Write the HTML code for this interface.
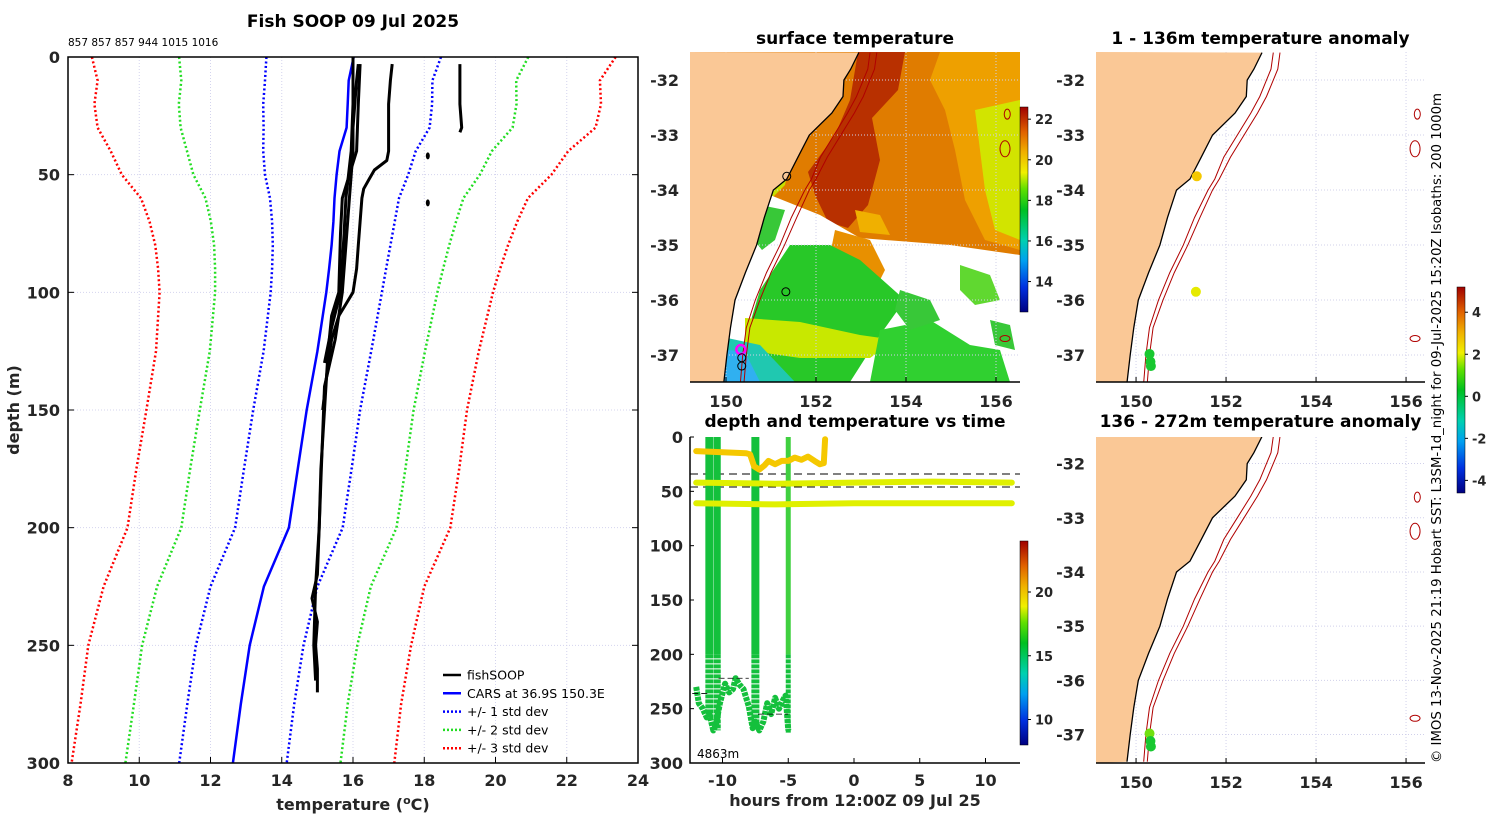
<!DOCTYPE html>
<html><head><meta charset="utf-8"><style>
html,body{margin:0;padding:0;background:#fff;}
svg{display:block;font-family:"DejaVu Sans","Liberation Sans",sans-serif;}
.tk{font-size:16px;font-weight:bold;fill:#262626;}
.ti{font-size:17px;font-weight:bold;fill:#000;}
</style></head><body>
<svg id="chart" width="1500" height="820" viewBox="0 0 1500 820" xmlns="http://www.w3.org/2000/svg">
<defs>
<linearGradient id="jetA" x1="0" y1="1" x2="0" y2="0">
<stop offset="0" stop-color="#000080"/><stop offset="0.12" stop-color="#0030e0"/><stop offset="0.25" stop-color="#00a0f0"/><stop offset="0.35" stop-color="#00d0b0"/><stop offset="0.5" stop-color="#00c020"/><stop offset="0.6" stop-color="#60e000"/><stop offset="0.68" stop-color="#f0f000"/><stop offset="0.78" stop-color="#f0b000"/><stop offset="0.88" stop-color="#e06000"/><stop offset="1" stop-color="#a00000"/>
</linearGradient>
</defs>
</svg>
<script>
// ---------- data: left profile chart ----------
const depthLevels=[0,10,20,30,40,50,60,70,80,90,100,125,150,175,200,225,250,275,300];
const carsMean=[16.02,15.88,15.85,15.82,15.62,15.54,15.48,15.45,15.4,15.33,15.25,15.0,14.7,14.45,14.2,13.5,13.1,12.85,12.63];
const carsStd=[2.45,2.35,2.37,2.33,2.14,2.01,1.81,1.72,1.65,1.6,1.56,1.51,1.5,1.51,1.51,1.5,1.51,1.5,1.51];
const p1Depth=[3,10,20,30,40,50,60,80,100,120,140,160,180,200,220,230,240,250,260,270];
const p1Temp=[16.15,16.1,16.05,16.0,16.0,15.95,15.9,15.8,15.7,15.5,15.2,15.15,15.1,15.05,15.0,14.85,15.0,14.95,15.0,15.0];
const p2Depth=[3,10,20,30,40,44,48,52,56,60,70,80,90,100,105,110,120,130,150];
const p2Temp=[17.1,17.05,17.0,17.0,17.0,16.95,16.6,16.45,16.3,16.25,16.2,16.15,16.1,16.0,15.8,15.6,15.4,15.3,15.15];
const p3Depth=[3,20,40,50,60,75,100,110,125,150,175,200,225,250,265];
const p3Temp=[16.2,16.15,16.1,15.9,15.7,15.65,15.6,15.4,15.3,15.2,15.1,15.05,14.95,14.9,14.95];
const p4Depth=[0,20,40,60,75,100,115,130];
const p4Temp=[16.0,16.0,15.95,15.8,15.75,15.65,15.4,15.2];
const p5Depth=[3,10,20,30,32];
const p5Temp=[19.0,19.0,19.0,19.05,19.0];
const dotDepth=[42,62];
const dotTemp=[18.1,18.1];
const tempTicks=[8,10,12,14,16,18,20,22,24];
const depthTicks=[0,50,100,150,200,250,300];
// ---------- data: depth vs time ----------
const surfTime=[-12,-10,-8.2,-7.9,-7.6,-7.2,-6.8,-6.5,-6,-5.5,-5,-4.5,-4,-3.5,-3,-2.6,-2.3,-2.2];
const surfDepth=[13,14,15,16,27,30,26,22,25,22,22,19,21,18,22,25,24,2];
const mooringTime=[-12,-6,0,6,12];
const mooring1Depth=[42,43,42,41,42];
const mooring2Depth=[61,62,61,61,61];
const diveTime=[-11.0,-10.4,-7.5,-5.0];
const diveMax=[258,270,268,272];
const bottomTime=[-12,-11.8,-11.5,-11.2,-11,-10.7,-10.5,-10.2,-9.8,-9.5,-9.2,-9,-8.7,-8.4,-8,-7.7,-7.5,-7.2,-6.9,-6.6,-6.3,-6,-5.7,-5.4,-5.2,-5];
const bottomDepth=[230,245,250,258,255,270,265,245,227,235,232,222,228,232,248,268,262,270,262,245,255,240,250,242,238,270];
const hourTicks=[-10,-5,0,5,10];
// ---------- data: maps ----------
const coastLat=[-31.5,-31.8,-32,-32.3,-32.6,-33,-33.4,-33.8,-34,-34.5,-35,-35.5,-36,-36.5,-37,-37.5];
const coastLon=[152.8,152.62,152.47,152.45,152.2,151.7,151.45,151.2,150.9,150.7,150.53,150.28,150.05,149.95,149.87,149.8];
const iso200Lon=[153.05,153.0,152.9,152.75,152.55,152.25,151.95,151.75,151.6,151.3,151.05,150.75,150.5,150.3,150.22,150.17];
const iso1000Lon=[153.2,153.15,153.05,152.9,152.7,152.4,152.1,151.85,151.7,151.42,151.15,150.85,150.6,150.38,150.3,150.25];
const lonTicks=[150,152,154,156];
const latTicks=[-32,-33,-34,-35,-36,-37];
const anomLon1=[151.35,151.33,150.3,150.32,150.33];
const anomLat1=[-33.75,-35.85,-36.98,-37.12,-37.2];
const anomVal1=[2.5,1.9,0.3,0.4,0.3];
const anomLon2=[150.3,150.32,150.33];
const anomLat2=[-36.98,-37.12,-37.22];
const anomVal2=[1.2,0.9,0.8];

const NS='http://www.w3.org/2000/svg';
const svg=document.getElementById('chart');
function mk(tag,attrs,parent){const e=document.createElementNS(NS,tag);for(const k in attrs)e.setAttribute(k,attrs[k]);(parent||svg).appendChild(e);return e;}
function txt(s,x,y,cls,anchor,parent){const t=mk('text',{x:x,y:y,class:cls,'text-anchor':anchor||'middle'},parent);t.textContent=s;return t;}
function poly(xs,ys){return xs.map((v,i)=>v.toFixed(1)+','+ys[i].toFixed(1)).join(' ');}

// ================= LEFT CHART =================
const L={x0:68,x1:638,y0:57,y1:763};
const tx=t=>L.x0+(t-8)*(L.x1-L.x0)/16;
const dy=d=>L.y0+d*(L.y1-L.y0)/300;
const gL=mk('g',{});


tempTicks.forEach(t=>{
  const g=mk('line',{x1:tx(t),x2:tx(t),y1:L.y0,y2:L.y1,stroke:'#d4d4ee','stroke-width':1,'stroke-dasharray':'1,2'},gL);
  
  
  const k=mk('line',{x1:tx(t),x2:tx(t),y1:L.y1,y2:L.y1-6,stroke:'#000'},gL);
  
  
  const lb=txt(String(t),tx(t),786,'tk','middle',gL);
  
  
});
depthTicks.forEach(d=>{
  const g=mk('line',{x1:L.x0,x2:L.x1,y1:dy(d),y2:dy(d),stroke:'#d4d4ee','stroke-width':1,'stroke-dasharray':'1,2'},gL);
  
  
  const k=mk('line',{x1:L.x0,x2:L.x0+6,y1:dy(d),y2:dy(d),stroke:'#000'},gL);
  
  
  const k2=mk('line',{x1:L.x1,x2:L.x1-6,y1:dy(d),y2:dy(d),stroke:'#000'},gL);
  
  
  const lb=txt(String(d),60,dy(d)+6,'tk','end',gL);
  
  
});
const envCols=['#0000ff','#22dd22','#ff0000'];
[1,2,3].forEach((k,i)=>{
  [-1,1].forEach(sg=>{
    const xs=depthLevels.map((d,j)=>tx(carsMean[j]+sg*k*carsStd[j]));
    const ys=depthLevels.map(d=>dy(d));
    const pl=mk('polyline',{points:poly(xs,ys),fill:'none',stroke:envCols[i],'stroke-width':2.5,'stroke-dasharray':'2,2.5'},gL);
    
    
  });
});
const cars=mk('polyline',{points:poly(depthLevels.map((d,j)=>tx(carsMean[j])),depthLevels.map(d=>dy(d))),fill:'none',stroke:'#0000ff','stroke-width':2.5},gL);


[[p1Depth,p1Temp],[p2Depth,p2Temp],[p3Depth,p3Temp],[p4Depth,p4Temp],[p5Depth,p5Temp]].forEach((p,i)=>{
  const pl=mk('polyline',{points:poly(p[1].map(tx),p[0].map(dy)),fill:'none',stroke:'#000','stroke-width':3,'stroke-linejoin':'round'},gL);
  
  
});
dotDepth.forEach((d,i)=>{
  const c=mk('ellipse',{cx:tx(dotTemp[i]),cy:dy(d),rx:2,ry:3.5,fill:'#000'},gL);
  
  
});
const frL=mk('rect',{x:L.x0,y:L.y0,width:L.x1-L.x0,height:L.y1-L.y0,fill:'none',stroke:'#000','stroke-width':1.5},gL);


const tL=txt('Fish SOOP 09 Jul 2025',353,27,'ti','middle',gL);


const ids=txt('857 857 857 944 1015 1016',68,46,'','start',gL);
ids.setAttribute('style','font-size:10.5px');


const yl=txt('depth (m)',0,0,'tk','middle',gL);
yl.setAttribute('transform','translate(19,410) rotate(-90)');
yl.setAttribute('style','font-size:16px');


const xl=mk('text',{x:353,y:810,class:'tk','text-anchor':'middle',style:'font-size:16px'},gL);
xl.innerHTML='temperature (<tspan dy="-6" font-size="11">o</tspan><tspan dy="6">C)</tspan>';


const leg=mk('g',{},gL);


const legItems=[['fishSOOP','#000',''],['CARS at 36.9S 150.3E','#0000ff',''],['+/- 1 std dev','#0000ff','2,2'],['+/- 2 std dev','#22dd22','2,2'],['+/- 3 std dev','#ff0000','2,2']];
legItems.forEach((it,i)=>{
  const y=675+i*18.3;
  const ln=mk('line',{x1:443,x2:461,y1:y,y2:y,stroke:it[1],'stroke-width':2.5,'stroke-dasharray':it[2]||'none'},leg);
  
  
  const t=txt(it[0],467,y+4.5,'','start',leg);
  t.setAttribute('style','font-size:12.5px');
  
  
});

// ================= MAP HELPERS =================
function mapAxes(g,M,title,titleY){
  const lx=lo=>M.x0+(lo-M.lon0)*M.kx, ly=la=>M.y0+(M.lat0-la)*M.ky;
  lonTicks.forEach(v=>{
    const gl=mk('line',{x1:lx(v),x2:lx(v),y1:M.y0,y2:M.y1,stroke:'#d0d0ea','stroke-dasharray':'1,2'},g);
    
    
    const t=txt(String(v),lx(v),M.y1+25,'tk','middle',g);
    
    
  });
  latTicks.forEach(v=>{
    const gl=mk('line',{x1:M.x0,x2:M.x1,y1:ly(v),y2:ly(v),stroke:'#d0d0ea','stroke-dasharray':'1,2'},g);
    
    
    const t=txt(String(v),M.x0-11,ly(v)+6,'tk','end',g);
    
    
  });
  const tt=txt(title,(M.x0+M.x1)/2,titleY,'ti','middle',g);
  
  
  return [lx,ly];
}
function land(g,M,lx,ly){
  const xs=coastLon.map(v=>lx(v+(M.shift||0))).concat([M.x0,M.x0]);
  const ys=coastLat.map(ly).concat([M.y1,M.y0]);
  const cl=mk('clipPath',{id:'c'+M.id},g);
  mk('rect',{x:M.x0,y:M.y0,width:M.x1-M.x0,height:M.y1-M.y0},cl);
  const gg=mk('g',{'clip-path':'url(#c'+M.id+')'},g);
  const p=mk('polygon',{points:poly(xs,ys),fill:'#fac896',stroke:'none'},gg);
  
  
  const c=mk('polyline',{points:poly(coastLon.map(v=>lx(v+(M.shift||0))),coastLat.map(ly)),fill:'none',stroke:'#000','stroke-width':1.3},gg);
  
  
  [iso200Lon,iso1000Lon].forEach((a,i)=>{
    const l=mk('polyline',{points:poly(a.map(v=>lx(v+(M.shift||0))),coastLat.map(ly)),fill:'none',stroke:'#b00000','stroke-width':1},gg);
    
    
  });
  [[156.25,-32.62,3,5],[156.2,-33.25,5,8],[156.2,-36.7,5,3]].forEach(p=>{
    const e=mk('ellipse',{cx:lx(p[0]),cy:ly(p[1]),rx:p[2],ry:p[3],fill:'none',stroke:'#b00000','stroke-width':1},gg);
    
    
  });
  const ax=mk('line',{x1:M.x0,x2:M.x1,y1:M.y1,y2:M.y1,stroke:'#000','stroke-width':1.5},g);
  
  
  lonTicks.forEach(v=>{const k=mk('line',{x1:lx(v),x2:lx(v),y1:M.y1,y2:M.y1-5,stroke:'#000'},g);});
  return gg;
}

// ================= SST MAP =================
const S={id:'sst',x0:690,x1:1020,y0:52,y1:382,lon0:149.2,lat0:-31.49,kx:45,ky:55,shift:0.15};
const gS=mk('g',{});


const clS=mk('clipPath',{id:'sstclip'},gS);
mk('rect',{x:S.x0,y:S.y0,width:330,height:330},clS);
const fld=mk('g',{'clip-path':'url(#sstclip)'},gS);


const patches=[
 ['#e07c00','690,52 1020,52 1020,382 690,382'],
 ['#eea000','940,52 1020,52 1020,250 985,240 965,200 955,150 945,110 930,80'],
 ['#d2e400','975,110 1020,100 1020,240 995,230 985,190 980,150'],
 ['#b83000','858,52 905,52 898,90 872,118 880,160 868,205 848,228 828,222 815,195 808,172 835,135 850,100'],
 ['#c8e000','775,150 790,160 785,185 770,200 760,180'],
 ['#ffffff','690,200 770,195 820,215 860,238 950,245 1020,255 1020,382 690,382'],
 ['#e89000','835,230 870,240 885,270 870,300 840,285 830,255'],
 ['#f0b000','855,210 880,215 890,235 860,232'],
 ['#28c828','790,245 830,245 860,260 905,300 880,335 850,382 760,382 748,330 760,290'],
 ['#38c838','760,205 785,210 775,240 762,250 750,235'],
 ['#c8e800','745,318 800,322 860,335 895,340 870,358 800,358 745,350'],
 ['#30d030','880,330 930,320 970,345 1000,350 1010,382 870,382'],
 ['#38c838','900,290 930,300 940,320 910,330 895,310'],
 ['#60d830','960,265 990,275 1000,300 975,305 960,290'],
 ['#38c838','990,320 1010,325 1015,350 995,345'],
 ['#20c8b0','690,330 760,345 795,382 690,382'],
 ['#30b0f0','690,345 745,352 760,382 690,382']];
patches.forEach((p,i)=>{
  const e=mk('polygon',{points:p[1],fill:p[0]},fld);
  
  
});
const [sx,sy]=mapAxes(gS,S,'surface temperature',44);
land(gS,S,sx,sy);
[[151.35,-33.75,'#000'],[151.33,-35.85,'#000'],[150.33,-36.9,'#ff00ff'],[150.35,-37.05,'#000'],[150.35,-37.2,'#000']].forEach(p=>{
  const c=mk('circle',{cx:sx(p[0]),cy:sy(p[1]),r:p[2]=='#ff00ff'?4.5:4,fill:'none',stroke:p[2],'stroke-width':p[2]=='#ff00ff'?2.5:1},gS);
  
  
});
function cbar(g,x,y0,y1,vmin,vmax,ticks,name){
  const r=mk('rect',{x:x,y:y0,width:8,height:y1-y0,fill:'url(#jetA)',stroke:'#000','stroke-width':0.5},g);
  
  
  ticks.forEach(v=>{
    const yy=y1-(v-vmin)/(vmax-vmin)*(y1-y0);
    const k=mk('line',{x1:x+8,x2:x+11,y1:yy,y2:yy,stroke:'#000'},g);
    
    
    const t=txt(String(v),x+15,yy+5,'tk','start',g);
    t.setAttribute('style','font-size:13px');
    
    
  });
}
cbar(gS,1020,107,312,12.5,22.6,[14,16,18,20,22],'sst-colorbar');

// ================= DEPTH VS TIME =================
const T={x0:690,x1:1020,y0:437,y1:763};
const hx=h=>854+h*13.15;
const hy=d=>T.y0+d*(T.y1-T.y0)/300;
const gT=mk('g',{});


const tT=txt('depth and temperature vs time',855,427,'ti','middle',gT);


depthTicks.forEach(d=>{
  const t=txt(String(d),683,hy(d)+6,'tk','end',gT);
  
  
  const k=mk('line',{x1:T.x0,x2:T.x0+4,y1:hy(d),y2:hy(d),stroke:'#000'},gT);
  
  
});
hourTicks.forEach(h=>{
  const t=txt(String(h),hx(h),786,'tk','middle',gT);
  
  
  const k=mk('line',{x1:hx(h),x2:hx(h),y1:T.y1,y2:T.y1-5,stroke:'#000'},gT);
  
  
});
const xlT=txt('hours from 12:00Z 09 Jul 25',855,806,'tk','middle',gT);
xlT.setAttribute('style','font-size:16px');


[34,46].forEach(d=>{
  const l=mk('line',{x1:T.x0,x2:T.x1,y1:hy(d),y2:hy(d),stroke:'#000','stroke-dasharray':'8,5'},gT);
  
  
});
const diveW=[8,7,8,5];
diveTime.forEach((h,i)=>{
  const w=diveW[i];
  const b=mk('rect',{x:hx(h)-w/2,y:hy(0),width:w,height:hy(200)-hy(0),fill:i==3?'#40d040':'#14c03c'},gT);
  
  
  const l=mk('line',{x1:hx(h),x2:hx(h),y1:hy(200),y2:hy(diveMax[i]),stroke:'#14c03c','stroke-width':w,'stroke-dasharray':'4,1'},gT);
  
  
});
const bt=mk('polyline',{points:poly(bottomTime.map(hx),bottomDepth.map(hy)),fill:'none',stroke:'#14c03c','stroke-width':6,'stroke-dasharray':'4,1','stroke-linejoin':'round'},gT);


[[-12.3,-11,236],[-10.3,-8,222],[-7.3,-5,255]].forEach(s=>{
  const l=mk('line',{x1:hx(s[0]),x2:hx(s[1]),y1:hy(s[2]),y2:hy(s[2]),stroke:'#000','stroke-dasharray':'6,3','stroke-width':0.8},gT);
  
  
});
[[mooring1Depth,'mooring-track-42m'],[mooring2Depth,'mooring-track-61m']].forEach(m=>{
  const l=mk('polyline',{points:poly(mooringTime.map(hx),m[0].map(hy)),fill:'none',stroke:'#e0f000','stroke-width':6,'stroke-linecap':'round'},gT);
  
  
});
const sf=mk('polyline',{points:poly(surfTime.map(hx),surfDepth.map(hy)),fill:'none',stroke:'#f5c800','stroke-width':6,'stroke-linecap':'round','stroke-linejoin':'round'},gT);


const ax1=mk('polyline',{points:T.x0+','+T.y0+' '+T.x0+','+T.y1+' '+T.x1+','+T.y1,fill:'none',stroke:'#000','stroke-width':1.5},gT);


const dep=txt('4863m',697,758,'','start',gT);
dep.setAttribute('style','font-size:12px');


cbar(gT,1020,541,745,8,24,[10,15,20],'depth-time-colorbar');

// ================= ANOMALY MAPS =================
function anomColor(v){return v>2.2?'#f5c800':v>1.5?'#e6ea00':v>1?'#70e010':'#18c830';}
const A1={id:'a1',x0:1096,x1:1425,y0:52,y1:382,lon0:149.11,lat0:-31.49,kx:45,ky:55};
const gA1=mk('g',{});


const [ax_,ay_]=mapAxes(gA1,A1,'1 - 136m temperature anomaly',44);
land(gA1,A1,ax_,ay_);
anomLon1.forEach((lo,i)=>{
  const c=mk('circle',{cx:ax_(lo),cy:ay_(anomLat1[i]),r:5,fill:anomColor(anomVal1[i])},gA1);
  
  
});
const A2={id:'a2',x0:1096,x1:1425,y0:437,y1:763,lon0:149.11,lat0:-31.51,kx:45,ky:54.2};
const gA2=mk('g',{});


const [bx_,by_]=mapAxes(gA2,A2,'136 - 272m temperature anomaly',427);
land(gA2,A2,bx_,by_);
anomLon2.forEach((lo,i)=>{
  const c=mk('circle',{cx:bx_(lo),cy:by_(anomLat2[i]),r:5,fill:anomColor(anomVal2[i])},gA2);
  
  
});
cbar(svg,1457,287,493,-4.6,5.2,[-4,-2,0,2,4],'anomaly-colorbar');
const cr=txt('© IMOS 13-Nov-2025 21:19 Hobart SST: L3SM-1d_night for 09-Jul-2025 15:20Z Isobaths: 200  1000m',0,0,'','middle');
cr.setAttribute('transform','translate(1441,428) rotate(-90)');
cr.setAttribute('style','font-size:13.3px');


</script>
</body></html>
